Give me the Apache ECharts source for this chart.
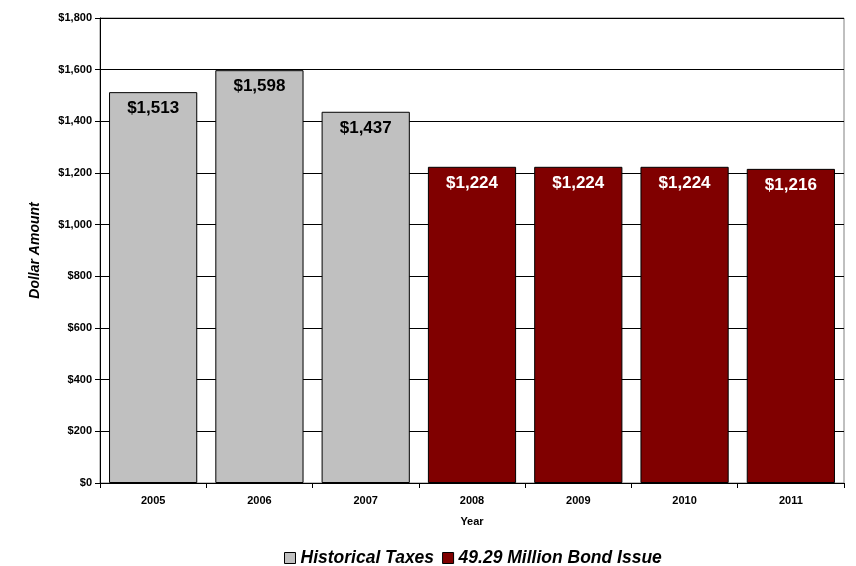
<!DOCTYPE html>
<html><head><meta charset="utf-8">
<script src="https://cdn.jsdelivr.net/npm/echarts@6/dist/echarts.min.js"></script>
<style>html,body{margin:0;padding:0;background:#fff}#c{width:856px;height:566px}</style>
</head><body><div id="c"></div>
<script>
const years = ['2005','2006','2007','2008','2009','2010','2011'];
const historical = [1513, 1598, 1437, null, null, null, null];
const bond = [null, null, null, 1224, 1224, 1224, 1216];
const yTicks = [0, 200, 400, 600, 800, 1000, 1200, 1400, 1600, 1800];

const fmt = v => '$' + Number(v).toLocaleString('en-US');
const chart = echarts.init(document.getElementById('c'));
const font = '"Liberation Sans", Arial, sans-serif';
chart.setOption({
  animation: false,
  textStyle: { fontFamily: font },
  grid: { left: 100, right: 12, top: 18, bottom: 83, show: true, borderColor: '#808080', borderWidth: 1 },
  legend: {
    top: 544, left: 279, icon: 'rect', itemWidth: 11, itemHeight: 11, itemGap: 8,
    textStyle: { fontFamily: font, fontSize: 17.5, fontWeight: 'bold', fontStyle: 'italic', color: '#000' },
    data: [{ name: 'Historical Taxes', itemStyle: { borderColor: '#000', borderWidth: 1 } },
           { name: '49.29 Million Bond Issue', itemStyle: { borderColor: '#000', borderWidth: 1 } }]
  },
  xAxis: {
    type: 'category', data: years,
    name: 'Year', nameLocation: 'middle', nameGap: 33,
    nameTextStyle: { fontFamily: font, fontSize: 11, fontWeight: 'bold', color: '#000' },
    axisLine: { lineStyle: { color: '#000', width: 1 } },
    axisTick: { show: true, length: 5, lineStyle: { color: '#000' } },
    axisLabel: { fontFamily: font, fontSize: 11, fontWeight: 'bold', color: '#000', margin: 12 }
  },
  yAxis: {
    type: 'value', min: 0, max: 1800, interval: 200,
    name: 'Dollar Amount', nameLocation: 'middle', nameGap: 58, nameRotate: 90,
    nameTextStyle: { fontFamily: font, fontSize: 14, fontWeight: 'bold', fontStyle: 'italic', color: '#000' },
    axisLine: { show: true, lineStyle: { color: '#000', width: 1 } },
    axisTick: { show: true, length: 5, lineStyle: { color: '#000' } },
    splitLine: { lineStyle: { color: '#000', width: 1 } },
    axisLabel: { fontFamily: font, fontSize: 11, fontWeight: 'bold', color: '#000', margin: 8,
      formatter: v => yTicks.includes(v) ? fmt(v) : '' }
  },
  series: [
    { name: 'Historical Taxes', type: 'bar', stack: 's', data: historical, barCategoryGap: '17%',
      itemStyle: { color: '#c0c0c0', borderColor: '#000', borderWidth: 1 },
      label: { show: true, position: 'insideTop', distance: 8, formatter: p => fmt(p.value),
        fontFamily: font, fontSize: 17, fontWeight: 'bold', color: '#000' } },
    { name: '49.29 Million Bond Issue', type: 'bar', stack: 's', data: bond, barCategoryGap: '17%',
      itemStyle: { color: '#800000', borderColor: '#000', borderWidth: 1 },
      label: { show: true, position: 'insideTop', distance: 8, formatter: p => fmt(p.value),
        fontFamily: font, fontSize: 17, fontWeight: 'bold', color: '#fff' } }
  ]
});
</script></body></html>
